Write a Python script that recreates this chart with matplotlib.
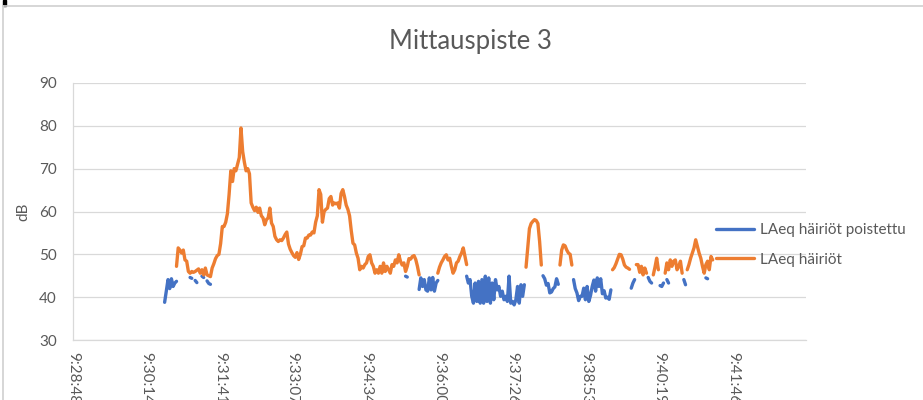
import numpy as np
from matplotlib import pyplot as plt
from matplotlib.lines import Line2D
from matplotlib.patches import Rectangle

plt.rcParams['font.family'] = ['Lato', 'DejaVu Sans']


def hms_to_s(hms):
    h, m, s = (int(v) for v in hms.split(':'))
    return h * 3600 + m * 60 + s


axis_start = '9:28:48'
axis_end = '9:43:12'
tick_labels = ['9:28:48', '9:30:14', '9:31:41', '9:33:07', '9:34:34',
               '9:36:00', '9:37:26', '9:38:53', '9:40:19', '9:41:46']
first_sample = '9:30:36'
step_s = 2   # logger interval [s]

series_names = ['LAeq häiriöt poistettu', 'LAeq häiriöt']

# LAeq with disturbances removed (None = removed sample)
laeq_clean = ([38.8, 41.5, 44.1, 42.0, 44.3, 42.5, 43.3, 43.7] + [None] * 7
              + [44.6, 44.4, None, 43.9, 43.4, None, None, 44.9, 44.6, None, 43.8, 43.2, 43.0]
              + [None] * 114 + [44.9, 44.7] + [None] * 6
              + [41.8, 44.5, 42.5, 44.1, 41.7, 41.4, 44.5, 41.7, 44.6, 41.4, 43.3, 43.9]
              + [None] * 16
              + [44.9, 43.3, 44.1, 40.2, 38.6, 43.3, 39.0, 43.7, 38.6, 44.1,
                 38.6, 44.9, 39.0, 44.5, 38.6, 43.3, 39.4, 44.1, 41.7, 42.5,
                 40.2, 41.4, 39.4, 40.2, 39.0, 44.9, 38.6, 39.0, 38.2, 39.4,
                 42.5, 38.6, 42.9, 40.2, 42.9]
              + [None] * 10
              + [45.0, 44.3, 42.8, 43.2, 41.0, 41.2, 42.0, 42.4, 44.3, 43.0]
              + [None] * 8
              + [44.1, 42.0, 41.0, 39.2, 40.2, 40.2, 42.1, 39.4, 42.5, 39.0,
                 40.4, 42.5, 44.0, 41.4, 44.5, 42.5, 44.3, 40.8, 41.5, 39.8,
                 40.0, 39.5, 41.7]
              + [None] * 11 + [42.1, 43.3, 44.1] + [None] * 7 + [44.6, 43.7, 43.3]
              + [None] * 4 + [42.7, 42.5, 43.3, None, 44.1, 43.3] + [None] * 8
              + [44.1, 42.9] + [None] * 11 + [44.5, 44.3] + [None] * 3)

# LAeq during disturbances
laeq_noise = ([None] * 7
              + [47.2, 51.5, 51.0,
                 50.3, 51.0, 48.7, 48.4, 46.0, 45.6, 46.0, 45.8, 46.0, 46.3,
                 46.6, 45.6, 46.4, 45.2, 46.8, 45.2, 45.0, 44.8, 46.8, 47.8,
                 49.0, 49.7, 50.0, 52.5, 56.5, 56.5, 57.5, 59.5, 64.0, 69.5,
                 67.0, 70.0, 69.5, 71.0, 72.6, 79.5, 74.0, 71.5, 69.5, 70.0,
                 68.8, 62.0, 61.0, 60.2, 61.0, 59.8, 60.8, 59.0, 58.5, 56.9,
                 58.1, 58.5, 60.8, 57.3, 56.5, 54.2, 53.4, 53.0, 53.4, 53.2,
                 53.8, 54.6, 55.2, 52.4, 51.2, 50.4, 49.7, 49.3, 50.4, 48.8,
                 50.0, 51.8, 52.0, 53.8, 53.8, 54.5, 54.5, 55.2, 55.0, 57.5,
                 59.0, 65.1, 64.0, 57.5, 60.0, 60.5, 60.8, 63.0, 63.5, 61.5,
                 62.0, 61.8, 62.0, 60.8, 64.2, 65.1, 63.5, 61.5, 60.5, 59.0,
                 55.5, 52.6, 52.2, 50.3, 49.1, 46.4, 47.2, 46.8, 47.6, 48.0,
                 49.5, 49.9, 48.0, 47.2, 45.6, 46.4, 45.6, 47.2, 45.6, 48.0,
                 46.0, 47.2, 46.4, 45.6, 47.6, 47.2, 48.7, 48.0, 49.9, 48.4,
                 47.5, 48.0, 46.0, 47.2, 49.0, 48.9, 49.5, 49.7, 48.8, 47.2,
                 45.2]
              + [None] * 10
              + [45.6, 47.0, 48.0, 48.7, 49.5, 49.9, 48.7, 49.1, 47.2,
                 45.6, 46.4, 48.0, 48.4, 49.5, 50.3, 51.5, 49.5, 47.6]
              + [None] * 34
              + [47.0, 51.5, 56.0, 57.2, 57.7, 58.1, 57.9, 57.2, 53.0, 47.5]
              + [None] * 10
              + [47.5, 51.0, 52.2, 52.0, 51.0, 50.3, 50.0, 47.5]
              + [None] * 23
              + [46.4, 46.9, 47.8, 48.9, 50.0, 49.9, 48.9, 47.5, 47.0, 46.8, 46.5]
              + [None] * 3 + [47.6, 47.6, 45.8, 47.2, 45.2, 46.8, 45.6]
              + [None] * 3 + [45.2, 47.0, 49.1, 46.4]
              + [None] * 3 + [45.6, 48.0, 46.4, 48.7, 47.2, 48.4, 48.7, 46.4, 47.2, 48.4, 45.6]
              + [None] * 2
              + [46.4, 47.6, 49.1, 50.3, 51.5, 53.4, 51.9, 50.3, 49.1, 47.2,
                 45.6, 47.6, 48.4, 46.4, 49.5, 48.7])

t0 = hms_to_s(axis_start)
clean = np.array(laeq_clean, dtype=float)
noise = np.array(laeq_noise, dtype=float)
t = hms_to_s(first_sample) - t0 + step_s * np.arange(len(noise))

text_col = '#595959'
grid_col = '#d9d9d9'
fs = 11

fig = plt.figure(figsize=(9.23, 4.0), dpi=100)
ax = fig.add_axes([73 / 923, 60 / 400, 733 / 923, 257 / 400])

ax.plot(t, clean, color='#4472c4', lw=2.4, solid_capstyle='round',
        solid_joinstyle='round', label=series_names[0])
ax.plot(t, noise, color='#ed7d31', lw=2.4, solid_capstyle='round',
        solid_joinstyle='round', label=series_names[1])

ax.set_xlim(0, hms_to_s(axis_end) - t0)
ax.set_ylim(30, 90)
ax.set_yticks(range(30, 91, 10))
ax.set_xticks([hms_to_s(lab) - t0 for lab in tick_labels], tick_labels, rotation=-90)
ax.grid(axis='y', color=grid_col, lw=0.9)
ax.set_axisbelow(True)
for side in ['top', 'right']:
    ax.spines[side].set_visible(False)
for side in ['left', 'bottom']:
    ax.spines[side].set_color(grid_col)
    ax.spines[side].set_linewidth(0.9)
ax.tick_params(length=0, labelsize=fs, labelcolor=text_col)
ax.tick_params(axis='y', pad=11.5)
ax.tick_params(axis='x', pad=8.4)

fig.text(470 / 923, 1 - 42 / 400, 'Mittauspiste 3', ha='center', va='center',
         fontsize=18.5, color=text_col)
fig.text(23 / 923, 1 - 212 / 400, 'dB', rotation=90, ha='center', va='center',
         fontsize=fs, color=text_col)

ax.legend(loc='center left', bbox_to_anchor=(716 / 923, 1 - 245 / 400),
          bbox_transform=fig.transFigure, frameon=False, fontsize=fs,
          handlelength=2.5, handletextpad=0.35, labelspacing=1.0,
          borderpad=0, borderaxespad=0, labelcolor=text_col)

# chart frame
fig.add_artist(Line2D([3 / 923, 1], [1 - 6.3 / 400] * 2, transform=fig.transFigure,
                      color='#d0d0d0', lw=1.2))
fig.add_artist(Line2D([2.7 / 923] * 2, [0, 1 - 6.3 / 400], transform=fig.transFigure,
                      color='#d0d0d0', lw=1.2))
fig.add_artist(Rectangle((2.5 / 923, 1 - 6 / 400), 4 / 923, 6 / 400,
                         transform=fig.transFigure, color='black'))

fig.savefig('out.png', dpi=100)
